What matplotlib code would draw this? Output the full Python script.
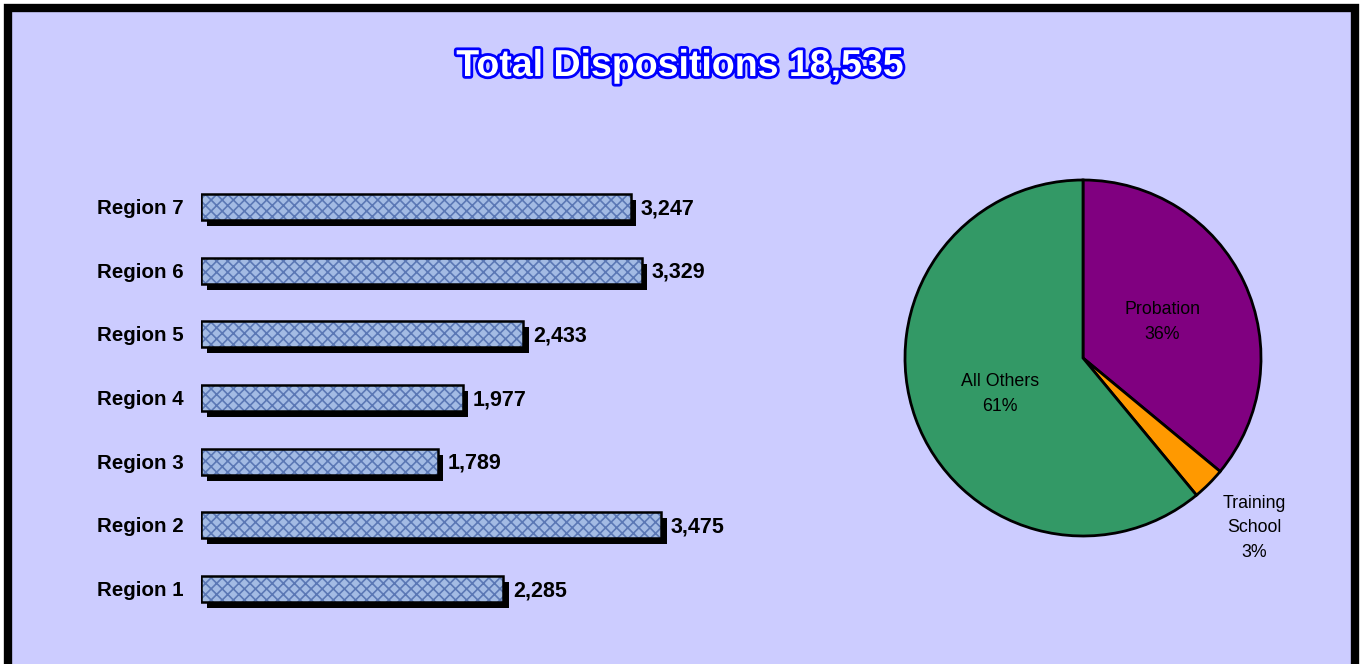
import matplotlib
matplotlib.use("Agg")
import matplotlib.pyplot as plt
import matplotlib.patheffects as pe
from matplotlib.patches import Rectangle
from matplotlib.transforms import ScaledTranslation

plt.rcParams['font.family'] = ['Liberation Sans', 'DejaVu Sans']
plt.rcParams['hatch.linewidth'] = 1.2

regions = ["Region 1", "Region 2", "Region 3", "Region 4", "Region 5", "Region 6", "Region 7"]
dispositions = [2285, 3475, 1789, 1977, 2433, 3329, 3247]
value_labels = ["2,285", "3,475", "1,789", "1,977", "2,433", "3,329", "3,247"]

pie_labels = ["Probation\n36%", "Training\nSchool\n3%", "All Others\n61%"]
pie_shares = [36, 3, 61]
pie_colors = ["#800080", "#ff9900", "#339966"]

title = "Total Dispositions 18,535"

W, H = 1365, 664
fig = plt.figure(figsize=(W / 100, H / 100), dpi=100)
fig.patch.set_facecolor("white")

def fx(px):
    return px / W

def fy(py):
    return 1 - py / H

# background panel with black border
bg = Rectangle((fx(8), fy(H + 20)), fx(1355 - 8), (H + 20 - 8) / H,
               transform=fig.transFigure, facecolor="#ccccff",
               edgecolor="black", linewidth=6, zorder=-10)
fig.patches.append(bg)

# title
fig.text(fx(680), fy(66), title, ha="center", va="center", fontsize=27,
         fontweight="bold", color="white", zorder=5,
         path_effects=[pe.withStroke(linewidth=4, foreground="#0000ff")])

# ---- bar chart ----
px_per_unit = 460 / 3475.0
ax_left, ax_width = 201, 620
ax_bottom_px, ax_top_px = 640, 150  # from top
ax = fig.add_axes([fx(ax_left), fy(ax_bottom_px), ax_width / W,
                   (ax_bottom_px - ax_top_px) / H])
ax.set_xlim(0, ax_width / px_per_unit)
step = (589 - 207) / 6.0
ax.set_ylim((589 - ax_bottom_px) / step, (589 - ax_top_px) / step)
ax.axis("off")

ypos = list(range(len(regions)))
bar_h = 26 / step
shadow = ax.transData + ScaledTranslation(5.5 / 100, -6 / 100, fig.dpi_scale_trans)
ax.barh(ypos, dispositions, height=bar_h, color="black", transform=shadow, zorder=1)
ax.barh(ypos, dispositions, height=bar_h, color="#a3bbe4", hatch="xxx",
        edgecolor="#5b78b5", linewidth=0, zorder=2)
ax.barh(ypos, dispositions, height=bar_h, fill=False, edgecolor="black",
        linewidth=1.8, zorder=3)

for y, v, lab, name in zip(ypos, dispositions, value_labels, regions):
    ax.text(v + 10 / px_per_unit, y - 0.025, lab, ha="left", va="center",
            fontsize=15.5, fontweight="bold", color="black", zorder=4)
    ax.text(-17 / px_per_unit, y - 0.025, name, ha="right", va="center",
            fontsize=14.8, fontweight="bold", color="black", zorder=4)

# ---- pie chart ----
cx, cy, r = 1083, 358, 178
pax = fig.add_axes([fx(cx - r), fy(cy + r), 2 * r / W, 2 * r / H])
pax.pie(pie_shares, colors=pie_colors, startangle=90, counterclock=False,
        radius=1, wedgeprops=dict(edgecolor="black", linewidth=2))
pax.set_xlim(-1, 1)
pax.set_ylim(-1, 1)
pax.set_aspect("equal")
pax.axis("off")

label_pos = [((1162 - cx) / r, (cy - 322) / r),
             ((1254 - cx) / r, (cy - 528) / r),
             ((1000 - cx) / r, (cy - 394) / r)]
for (lx, ly), lab in zip(label_pos, pie_labels):
    pax.text(lx, ly, lab, ha="center", va="center", fontsize=12.8,
             color="black", linespacing=1.55, clip_on=False)

fig.savefig("out.png", dpi=100, facecolor="white")
